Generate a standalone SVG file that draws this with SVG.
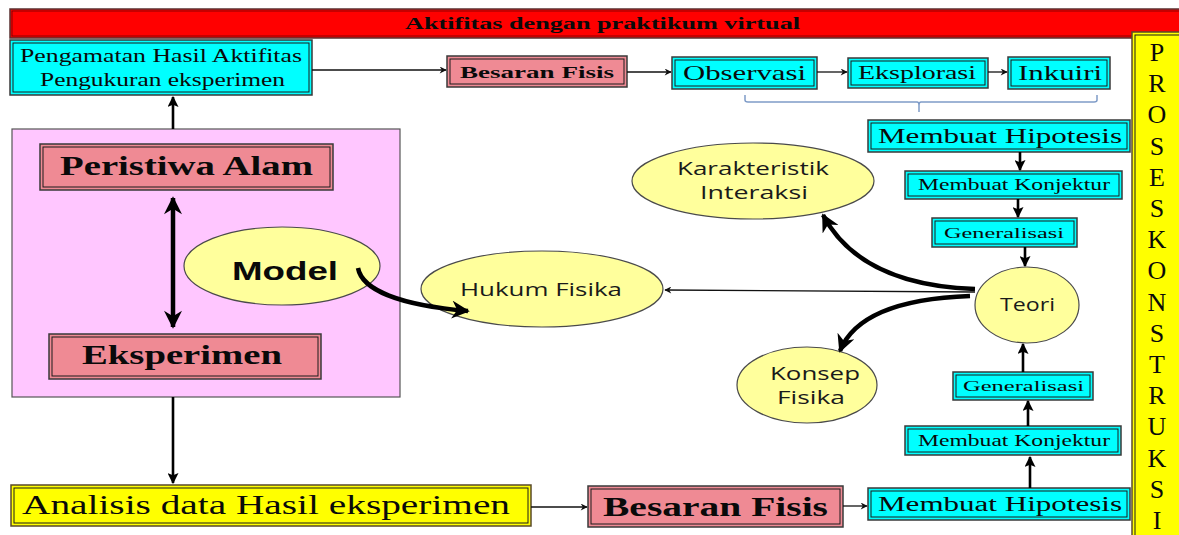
<svg xmlns="http://www.w3.org/2000/svg" width="1179" height="535" viewBox="0 0 1179 535">
<defs>
<style>
.serif{font-family:"Liberation Serif","Times New Roman",serif;fill:#0a0a0a}
.bold{font-weight:bold}
.sans{font-family:"Open Sans","Liberation Sans",Arial,sans-serif;fill:#1a1a1a}
.arial{font-family:"Liberation Sans",Arial,sans-serif;fill:#0a0a0a;font-weight:bold}
.cyan{fill:#00ffff;stroke:#3a3a3a;stroke-width:1.5}
.pink{fill:#ef8a94;stroke:#3a3a3a;stroke-width:1.5}
.yel{fill:#ffff00;stroke:#5a4a2a;stroke-width:1.5}
.inner{fill:none;stroke:#1a1a1a;stroke-width:1}
.ell{fill:#ffff9c;stroke:#4a4a4a;stroke-width:1.2}
.thin{fill:none;stroke:#111;stroke-width:1.3}
.mid{fill:none;stroke:#000;stroke-width:2.6}
.thick{fill:none;stroke:#000;stroke-width:4.5}
.let{font-family:"Liberation Serif","Times New Roman",serif;fill:#0a0a0a;font-size:26px}
</style>
<marker id="as" viewBox="0 0 10 10" refX="9" refY="5" markerWidth="9" markerHeight="7" markerUnits="userSpaceOnUse" orient="auto">
<path d="M0,0 L10,5 L0,10 L3,5 z" fill="#111"/>
</marker>
<marker id="am" viewBox="0 0 10 10" refX="9" refY="5" markerWidth="11" markerHeight="11" markerUnits="userSpaceOnUse" orient="auto">
<path d="M0,0 L10,5 L0,10 L2,5 z" fill="#000"/>
</marker>
<marker id="al" viewBox="0 0 10 10" refX="9" refY="5" markerWidth="20" markerHeight="18" markerUnits="userSpaceOnUse" orient="auto">
<path d="M0,0 L10,5 L0,10 L3,5 z" fill="#000"/>
</marker>
<marker id="ald" viewBox="0 0 10 10" refX="1" refY="5" markerWidth="20" markerHeight="18" markerUnits="userSpaceOnUse" orient="auto">
<path d="M10,0 L0,5 L10,10 L7,5 z" fill="#000"/>
</marker>
</defs>
<rect width="1179" height="535" fill="#ffffff"/>

<g id="banner">
<rect x="10" y="9" width="1175" height="29" fill="#ff0000" stroke="#5a3030" stroke-width="1.5"/>
<rect x="12" y="11" width="1171" height="25" fill="none" stroke="#700000" stroke-width="0.8"/>
<text class="serif bold" x="405" y="29" font-size="17" textLength="395" lengthAdjust="spacingAndGlyphs">Aktifitas dengan praktikum virtual</text>
</g>

<g id="proses">
<rect x="1132" y="32" width="52" height="510" class="yel"/>
<rect x="1135" y="35" width="46" height="504" class="inner"/>
<g class="let" text-anchor="middle">
<text x="1157" y="61">P</text>
<text x="1157" y="92">R</text>
<text x="1157" y="123">O</text>
<text x="1157" y="155">S</text>
<text x="1157" y="186">E</text>
<text x="1157" y="217">S</text>
<text x="1157" y="248">K</text>
<text x="1157" y="279">O</text>
<text x="1157" y="311">N</text>
<text x="1157" y="342">S</text>
<text x="1157" y="373">T</text>
<text x="1157" y="404">R</text>
<text x="1157" y="435">U</text>
<text x="1157" y="467">K</text>
<text x="1157" y="498">S</text>
<text x="1157" y="529">I</text>
</g>
</g>

<g id="pengamatan">
<rect x="10" y="40" width="302" height="55" class="cyan"/>
<rect x="13" y="43" width="296" height="49" class="inner"/>
<text class="serif" x="20" y="62" font-size="19" textLength="282" lengthAdjust="spacingAndGlyphs">Pengamatan Hasil Aktifitas</text>
<text class="serif" x="40" y="86" font-size="19" textLength="245" lengthAdjust="spacingAndGlyphs">Pengukuran eksperimen</text>
</g>

<g id="besaran-top">
<rect x="447" y="56" width="180" height="31" class="pink"/>
<rect x="450" y="59" width="174" height="25" class="inner"/>
<text class="serif bold" x="460" y="78" font-size="17" textLength="154" lengthAdjust="spacingAndGlyphs">Besaran Fisis</text>
</g>

<g id="observasi">
<rect x="672" y="57" width="145" height="32" class="cyan"/>
<rect x="675" y="60" width="139" height="26" class="inner"/>
<text class="serif" x="683" y="80" font-size="21" textLength="123" lengthAdjust="spacingAndGlyphs">Observasi</text>
</g>

<g id="eksplorasi">
<rect x="848" y="58" width="140" height="30" class="cyan"/>
<rect x="851" y="61" width="134" height="24" class="inner"/>
<text class="serif" x="858" y="79" font-size="18" textLength="118" lengthAdjust="spacingAndGlyphs">Eksplorasi</text>
</g>

<g id="inkuiri">
<rect x="1008" y="57" width="102" height="32" class="cyan"/>
<rect x="1011" y="60" width="96" height="26" class="inner"/>
<text class="serif" x="1018" y="80" font-size="21" textLength="84" lengthAdjust="spacingAndGlyphs">Inkuiri</text>
</g>

<g id="hipotesis-top">
<rect x="868" y="120" width="262" height="32" class="cyan"/>
<rect x="871" y="123" width="256" height="26" class="inner"/>
<text class="serif" x="878" y="143" font-size="20" textLength="244" lengthAdjust="spacingAndGlyphs">Membuat Hipotesis</text>
</g>

<g id="konjektur-top">
<rect x="905" y="171" width="217" height="28" class="cyan"/>
<rect x="908" y="174" width="211" height="22" class="inner"/>
<text class="serif" x="918" y="190" font-size="16" textLength="192" lengthAdjust="spacingAndGlyphs">Membuat Konjektur</text>
</g>

<g id="generalisasi-top">
<rect x="932" y="218" width="145" height="29" class="cyan"/>
<rect x="935" y="221" width="139" height="23" class="inner"/>
<text class="serif" x="944" y="238" font-size="15" textLength="120" lengthAdjust="spacingAndGlyphs">Generalisasi</text>
</g>

<g id="teori">
<ellipse cx="1027" cy="305" rx="52" ry="38" class="ell"/>
<text class="sans" x="1000" y="311" font-size="18" textLength="55" lengthAdjust="spacingAndGlyphs">Teori</text>
</g>

<g id="generalisasi-bottom">
<rect x="953" y="372" width="140" height="28" class="cyan"/>
<rect x="956" y="375" width="134" height="22" class="inner"/>
<text class="serif" x="963" y="391" font-size="15" textLength="121" lengthAdjust="spacingAndGlyphs">Generalisasi</text>
</g>

<g id="konjektur-bottom">
<rect x="905" y="426" width="216" height="29" class="cyan"/>
<rect x="908" y="429" width="210" height="23" class="inner"/>
<text class="serif" x="918" y="446" font-size="16" textLength="192" lengthAdjust="spacingAndGlyphs">Membuat Konjektur</text>
</g>

<g id="hipotesis-bottom">
<rect x="868" y="488" width="262" height="32" class="cyan"/>
<rect x="871" y="491" width="256" height="26" class="inner"/>
<text class="serif" x="878" y="511" font-size="20" textLength="244" lengthAdjust="spacingAndGlyphs">Membuat Hipotesis</text>
</g>

<g id="besaran-bottom">
<rect x="588" y="486" width="255" height="41" class="pink"/>
<rect x="591" y="489" width="249" height="35" class="inner"/>
<text class="serif bold" x="603" y="516" font-size="27" textLength="225" lengthAdjust="spacingAndGlyphs">Besaran Fisis</text>
</g>

<g id="analisis">
<rect x="11" y="485" width="520" height="41" class="yel"/>
<rect x="14" y="488" width="514" height="35" class="inner"/>
<text class="serif" x="22" y="514" font-size="27" textLength="488" lengthAdjust="spacingAndGlyphs">Analisis data Hasil eksperimen</text>
</g>

<g id="region">
<rect x="12" y="129" width="388" height="268" fill="#ffc6ff" stroke="#555" stroke-width="1.2"/>
</g>

<g id="peristiwa">
<rect x="40" y="144" width="293" height="46" class="pink"/>
<rect x="43" y="147" width="287" height="40" class="inner"/>
<text class="serif bold" x="60" y="175" font-size="27" textLength="253" lengthAdjust="spacingAndGlyphs">Peristiwa Alam</text>
</g>

<g id="eksperimen">
<rect x="49" y="334" width="272" height="45" class="pink"/>
<rect x="52" y="337" width="266" height="39" class="inner"/>
<text class="serif bold" x="82" y="364" font-size="27" textLength="200" lengthAdjust="spacingAndGlyphs">Eksperimen</text>
</g>

<g id="model">
<ellipse cx="282" cy="266" rx="98" ry="39" class="ell"/>
<text class="arial" x="232" y="280" font-size="25" textLength="106" lengthAdjust="spacingAndGlyphs">Model</text>
</g>

<g id="hukum">
<ellipse cx="542" cy="289" rx="121" ry="38" class="ell"/>
<text class="sans" x="460" y="296" font-size="18" textLength="162" lengthAdjust="spacingAndGlyphs">Hukum Fisika</text>
</g>

<g id="karakteristik">
<ellipse cx="753" cy="181" rx="121" ry="38" class="ell"/>
<text class="sans" x="677" y="175" font-size="18" textLength="152" lengthAdjust="spacingAndGlyphs">Karakteristik</text>
<text class="sans" x="700" y="199" font-size="18" textLength="108" lengthAdjust="spacingAndGlyphs">Interaksi</text>
</g>

<g id="konsep">
<ellipse cx="807" cy="385" rx="70" ry="38" class="ell"/>
<text class="sans" x="770" y="380" font-size="18" textLength="90" lengthAdjust="spacingAndGlyphs">Konsep</text>
<text class="sans" x="777" y="404" font-size="18" textLength="68" lengthAdjust="spacingAndGlyphs">Fisika</text>
</g>

<g id="connectors">
<line x1="312" y1="70" x2="446" y2="70" class="thin" marker-end="url(#as)"/>
<line x1="627" y1="72" x2="671" y2="72" class="thin" marker-end="url(#as)"/>
<line x1="817" y1="72" x2="847" y2="72" class="thin" marker-end="url(#as)"/>
<line x1="988" y1="72" x2="1007" y2="72" class="thin" marker-end="url(#as)"/>
<path d="M745 95 V100 Q745 102 748 102 H917 Q919 102 919 105 V112 M919 105 Q919 102 921 102 H1094 Q1097 102 1097 100 V95" fill="none" stroke="#7f9cc8" stroke-width="1.5"/>
<line x1="1020" y1="152" x2="1020" y2="170" class="mid" marker-end="url(#am)"/>
<line x1="1018" y1="199" x2="1018" y2="217" class="mid" marker-end="url(#am)"/>
<line x1="1025" y1="247" x2="1025" y2="266" class="mid" marker-end="url(#am)"/>
<line x1="1023" y1="372" x2="1023" y2="344" class="mid" marker-end="url(#am)"/>
<line x1="1028" y1="426" x2="1028" y2="401" class="mid" marker-end="url(#am)"/>
<line x1="1030" y1="488" x2="1030" y2="457" class="mid" marker-end="url(#am)"/>
<line x1="843" y1="506" x2="867" y2="506" class="thin" marker-end="url(#as)"/>
<line x1="531" y1="507" x2="587" y2="507" class="thin" marker-end="url(#as)"/>
<line x1="173" y1="397" x2="173" y2="483" class="mid" marker-end="url(#am)"/>
<line x1="173" y1="129" x2="173" y2="97" class="mid" marker-end="url(#am)"/>
<line x1="173" y1="198" x2="173" y2="327" class="thick" marker-start="url(#ald)" marker-end="url(#al)"/>
<path d="M358 268 C362 290 400 305 468 311" class="thick" marker-end="url(#al)"/>
<line x1="975" y1="292" x2="665" y2="290" class="thin" stroke-width="1.6" marker-end="url(#as)"/>
<path d="M975 289 Q860 285 823 215" class="thick" marker-end="url(#al)"/>
<path d="M970 296 Q860 300 840 351" class="thick" marker-end="url(#al)"/>
</g>
</svg>
